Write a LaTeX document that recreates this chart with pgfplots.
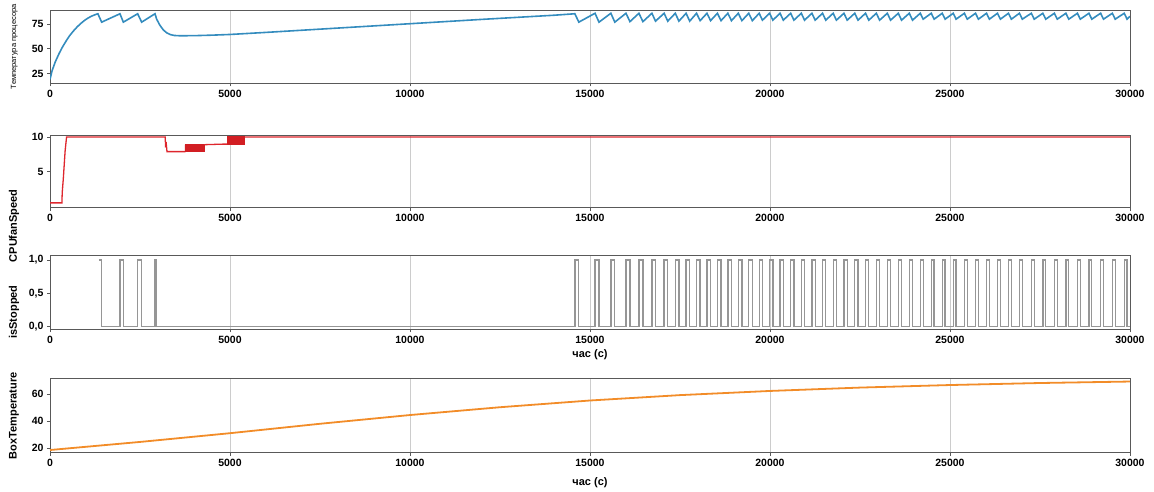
\documentclass[border=0pt]{standalone}
\usepackage{fontspec}
\setmainfont{Liberation Sans}
\usepackage{pgfplots}
\pgfplotsset{compat=1.18}

\definecolor{cpublue}{RGB}{52,140,190}
\definecolor{fanred}{RGB}{222,38,45}
\definecolor{blockred}{RGB}{210,30,35}
\definecolor{stopgray}{RGB}{150,150,150}
\definecolor{boxorange}{RGB}{242,140,40}

\pgfplotsset{
 panel/.style={
  scale only axis, width=1080pt, anchor=north west,
  xmin=0, xmax=30000,
  xtick={0,5000,10000,15000,20000,25000,30000},
  scaled x ticks=false, scaled y ticks=false,
  x tick label style={/pgf/number format/set thousands separator={}},
  xmajorgrids, grid style={gray!40, line width=0.6pt},
  axis line style={gray!70!black, line width=0.8pt},
  tick style={gray!70!black, line width=0.6pt},
  tick align=outside, major tick length=3pt,
  ytick pos=left, xtick pos=bottom,
  tick label style={font=\fontsize{10.5}{10.5}\selectfont\bfseries},
  /pgf/number format/assume math mode=true,
  label style={font=\fontsize{11}{11}\selectfont\bfseries},
 }
}

\begin{document}
\begin{tikzpicture}
\useasboundingbox (0pt,0pt) rectangle (1154pt,-491pt);

% Panel 1: CPU temperature
\begin{axis}[panel, at={(50pt,-10.3pt)}, height=73pt,
  ymin=15, ymax=89, ytick={25,50,75},
  ylabel={Температура процесора},
  ylabel style={at={(axis description cs:-0.033,0.5)}, anchor=center, font=\fontsize{7.5}{7.5}\selectfont}]
\addplot[cpublue, line width=1.6pt] coordinates {
(0,19) (60,28) (150,37) (250,45) (350,52) (450,58) (550,63.5) (650,68) (750,72) (850,75.5)
(950,78.5) (1050,81) (1150,83) (1250,84.5) (1330,85.5) (1435,77) (1944,85.5) (2037,77)
(2435,85.5) (2546,77) (2917,85.5) (2963,80) (3050,74) (3150,69) (3250,66) (3350,64.3)
(3450,63.5) (3600,63.2) (4000,63.3) (4500,63.8) (5000,64.5) (6000,66.6) (7000,68.8)
(8000,71) (9000,73.2) (10000,75.4) (11000,77.6) (12000,79.8) (13000,81.9) (14000,84)
(14580,85.5) (14690,77) (15140,86) (15250,77) (15580,86) (15690,77) (16000,86) (16110,77.5)
(16360,86) (16470,77.5) (16720,86) (16820,78) (17060,86) (17160,78) (17370,86) (17470,78)
(17670,86) (17770,78) (17960,86) (18060,78.5) (18250,86) (18350,78.5) (18540,86) (18640,78.5)
(18830,86) (18930,78.5) (19120,86) (19220,78.5) (19410,86) (19510,78.5) (19700,86) (19790,79)
(19990,86) (20080,79) (20280,86) (20370,79) (20575,86) (20665,79) (20870,86) (20960,79)
(21165,86) (21255,79) (21460,86) (21550,79) (21755,86) (21845,79) (22055,86) (22145,79)
(22355,86) (22445,79) (22655,86) (22745,79) (22955,86) (23045,79) (23260,86) (23350,79)
(23565,86) (23655,79) (23870,86) (23960,79) (24175,86) (24255,80) (24480,86) (24560,80)
(24785,86) (24865,80) (25090,86) (25170,80) (25400,86) (25480,80) (25710,86) (25790,80)
(26015,86) (26095,80) (26320,86) (26400,80) (26625,86) (26705,80) (26930,86) (27010,80)
(27260,86) (27340,80) (27580,86) (27660,80) (27900,86) (27980,80) (28220,86) (28300,80)
(28540,86) (28620,80) (28860,86) (28940,80) (29185,86) (29265,80) (29510,86) (29590,80)
(29840,86) (29920,80) (30000,83)
};
\end{axis}

% Panel 2: CPU fan speed
\begin{axis}[panel, at={(50pt,-135pt)}, height=72.7pt,
  ymin=-0.2, ymax=10.3, ytick={5,10},
  ylabel={CPUfanSpeed},
  ylabel style={at={(axis description cs:-0.0333,-0.25)}, anchor=center}]
\addplot[fanred, line width=1.3pt] coordinates {
(0,0.5) (330,0.5) (340,2) (370,4) (420,8) (460,10) (3200,10) (3210,8.8) (3230,9) (3250,7.9)
(3750,7.9) (4280,8.9) (4920,9) (5400,10) (30000,10)
};
% rapidly switching intervals, drawn as solid blocks
\addplot[fill=blockred, draw=blockred, line width=0.8pt] coordinates {
(3750,7.9) (4280,7.9) (4280,8.9) (3750,8.9) (3750,7.9)
};
\addplot[fill=blockred, draw=blockred, line width=0.8pt] coordinates {
(4920,8.9) (5400,8.9) (5400,10.1) (4920,10.1) (4920,8.9)
};
\addplot[fanred, line width=1.3pt] coordinates {(4280,8.9) (4920,8.9)};
\end{axis}

% Panel 3: isStopped
\begin{axis}[panel, at={(50pt,-255.7pt)}, height=73.6pt,
  ymin=-0.04, ymax=1.065, ytick={0,0.5,1}, yticklabels={{0,0},{0,5},{1,0}},
  ylabel={isStopped},
  ylabel style={at={(axis description cs:-0.0333,0.235)}, anchor=center},
  xlabel={час (с)},
  xlabel style={at={(axis description cs:0.5,-0.35)}, anchor=center}]
\addplot[stopgray, line width=1.3pt, const plot] coordinates {
(1360,1) (1435,0) (1944,1) (2037,0) (2435,1) (2546,0) (2917,1) (2963,0)
(14580,1) (14690,0) (15140,1) (15250,0) (15580,1) (15690,0) (16000,1) (16110,0)
(16360,1) (16470,0) (16720,1) (16820,0) (17060,1) (17160,0) (17370,1) (17470,0)
(17670,1) (17770,0) (17960,1) (18060,0) (18250,1) (18350,0) (18540,1) (18640,0)
(18830,1) (18930,0) (19120,1) (19220,0) (19410,1) (19510,0) (19700,1) (19790,0)
(19990,1) (20080,0) (20280,1) (20370,0) (20575,1) (20665,0) (20870,1) (20960,0)
(21165,1) (21255,0) (21460,1) (21550,0) (21755,1) (21845,0) (22055,1) (22145,0)
(22355,1) (22445,0) (22655,1) (22745,0) (22955,1) (23045,0) (23260,1) (23350,0)
(23565,1) (23655,0) (23870,1) (23960,0) (24175,1) (24255,0) (24480,1) (24560,0)
(24785,1) (24865,0) (25090,1) (25170,0) (25400,1) (25480,0) (25710,1) (25790,0)
(26015,1) (26095,0) (26320,1) (26400,0) (26625,1) (26705,0) (26930,1) (27010,0)
(27260,1) (27340,0) (27580,1) (27660,0) (27900,1) (27980,0) (28220,1) (28300,0)
(28540,1) (28620,0) (28860,1) (28940,0) (29185,1) (29265,0) (29510,1) (29590,0)
(29840,1) (29920,0) (30000,0)
};
\end{axis}

% Panel 4: Box temperature
\begin{axis}[panel, at={(50pt,-378.7pt)}, height=74pt,
  ymin=16.5, ymax=71.5, ytick={20,40,60},
  ylabel={BoxTemperature},
  ylabel style={at={(axis description cs:-0.0333,0.5)}, anchor=center},
  xlabel={час (с)},
  xlabel style={at={(axis description cs:0.5,-0.41)}, anchor=center}]
\addplot[boxorange, line width=1.8pt] coordinates {
(0,18.5) (2500,24.5) (5000,31) (7500,38) (10000,44.5) (12500,50.3) (15000,55.3)
(17500,59.3) (20000,62.4) (22500,64.9) (25000,66.8) (27500,68.3) (30000,69.4)
};
\end{axis}
\end{tikzpicture}
\end{document}
